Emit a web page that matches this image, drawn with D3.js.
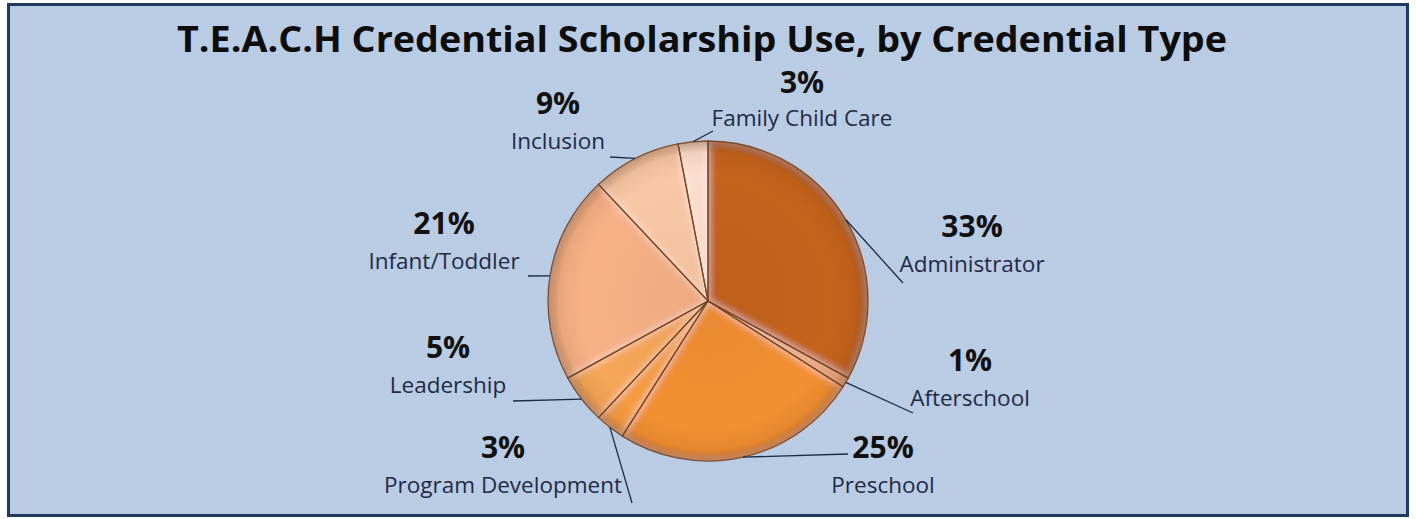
<!DOCTYPE html>
<html>
<head>
<meta charset="utf-8">
<script src="https://cdn.jsdelivr.net/npm/d3@7"></script>
<style>
  body { margin: 0; background: #ffffff; }
  svg { display: block; }
</style>
</head>
<body>
<svg></svg>
<script>
// chart data
let categories = ["Administrator", "Afterschool", "Preschool", "Program Development",
                  "Leadership", "Infant/Toddler", "Inclusion", "Family Child Care"];
let shares = [33, 1, 25, 3, 5, 21, 9, 3];
let sliceColors = ["#c4631d", "#e3832e", "#f28f31", "#f49b40", "#f6a658", "#f6b187", "#f9c8a7", "#fcdecd"];

// where Excel put the labels (center x / pct baseline), relative to pie center
let labelSpots = [[264, -64], [262, 70], [175, 157], [-205, 157], [-260, 57], [-264, -67], [-150, -187], [94, -208]];
// end of each leader line, relative to pie center
let leaderEnds = [[195, -18], [205, 112], [140, 153], [-76, 202], [-195, 100], [-180, -25], [-98, -144], [5, -170]];

let width = 1416;
let height = 519;
let cx = 708;
let cy = 301;
let radius = 160;

let svg = d3.select("svg")
  .attr("width", width)
  .attr("height", height);

let defs = svg.append("defs");

// soft light band along the slice edges
let bevel = defs.append("filter").attr("id", "bevel")
  .attr("x", "-10%").attr("y", "-10%").attr("width", "120%").attr("height", "120%");
bevel.append("feGaussianBlur").attr("in", "SourceAlpha").attr("stdDeviation", 4).attr("result", "blur");
bevel.append("feComposite").attr("in", "SourceAlpha").attr("in2", "blur")
  .attr("operator", "arithmetic").attr("k1", 0).attr("k2", 1).attr("k3", -1).attr("k4", 0).attr("result", "edge");
bevel.append("feFlood").attr("flood-color", "#ffffff").attr("flood-opacity", 0.6).attr("result", "white");
bevel.append("feComposite").attr("in", "white").attr("in2", "edge").attr("operator", "in").attr("result", "glow");
let merge = bevel.append("feMerge");
merge.append("feMergeNode").attr("in", "SourceGraphic");
merge.append("feMergeNode").attr("in", "glow");

// darker rim (gradient lives in the pie group's coordinates)
let rim = defs.append("radialGradient").attr("id", "rim")
  .attr("cx", 0).attr("cy", 0).attr("r", radius).attr("gradientUnits", "userSpaceOnUse");
rim.append("stop").attr("offset", "0%").attr("stop-color", "#5a2a00").attr("stop-opacity", 0.06);
rim.append("stop").attr("offset", "80%").attr("stop-color", "#5a2a00").attr("stop-opacity", 0);
rim.append("stop").attr("offset", "93%").attr("stop-color", "#5a2a00").attr("stop-opacity", 0.08);
rim.append("stop").attr("offset", "100%").attr("stop-color", "#5a2a00").attr("stop-opacity", 0.38);

// background + frame
svg.append("rect")
  .attr("x", 8.5).attr("y", 4.5)
  .attr("width", 1399).attr("height", 511)
  .attr("fill", "#b9cce4")
  .attr("stroke", "#1f3a60")
  .attr("stroke-width", 3);

// title
svg.append("text")
  .attr("x", 702)
  .attr("y", 52)
  .attr("text-anchor", "middle")
  .attr("textLength", 1050)
  .attr("lengthAdjust", "spacingAndGlyphs")
  .style("font-family", "'Open Sans', sans-serif")
  .style("font-weight", 700)
  .style("font-size", "35px")
  .style("fill", "#0d0d0d")
  .text("T.E.A.C.H  Credential Scholarship Use, by Credential Type");

let slices = categories.map((c, i) => ({ name: c, value: shares[i], color: sliceColors[i] }));

let pie = d3.pie().sort(null).value(d => d.value);
let arcs = pie(slices);

let arc = d3.arc().innerRadius(0).outerRadius(radius);

let g = svg.append("g").attr("transform", "translate(" + cx + "," + cy + ")");

g.selectAll("path.slice")
  .data(arcs)
  .enter()
  .append("path")
  .attr("class", "slice")
  .attr("d", arc)
  .attr("fill", d => d.data.color)
  .attr("filter", "url(#bevel)");

// rim shading + slice borders
g.selectAll("path.shade")
  .data(arcs)
  .enter()
  .append("path")
  .attr("class", "shade")
  .attr("d", arc)
  .attr("fill", "url(#rim)")
  .attr("stroke", "#7a4420")
  .attr("stroke-opacity", 0.9)
  .attr("stroke-width", 1.3);

// leader lines: from slice edge at its mid angle to the label
let edgePoint = (d) => {
  let a = (d.startAngle + d.endAngle) / 2;
  return [radius * Math.sin(a), -radius * Math.cos(a)];
};

g.selectAll("line.leader")
  .data(arcs)
  .enter()
  .append("line")
  .attr("class", "leader")
  .attr("x1", d => edgePoint(d)[0])
  .attr("y1", d => edgePoint(d)[1])
  .attr("x2", (d, i) => leaderEnds[i][0])
  .attr("y2", (d, i) => leaderEnds[i][1])
  .attr("stroke", "#1f2a44")
  .attr("stroke-width", 1.3);

// labels
let labels = g.selectAll("g.label")
  .data(arcs)
  .enter()
  .append("g")
  .attr("class", "label")
  .attr("transform", (d, i) => "translate(" + labelSpots[i][0] + "," + labelSpots[i][1] + ")");

labels.append("text")
  .attr("text-anchor", "middle")
  .style("font-family", "'Open Sans', sans-serif")
  .style("font-weight", 700)
  .style("font-size", "30px")
  .style("fill", "#111111")
  .text(d => d.data.value + "%");

labels.append("text")
  .attr("y", (d, i) => i === 7 ? 33 : 35)
  .attr("text-anchor", "middle")
  .style("font-family", "'Open Sans', sans-serif")
  .style("font-size", "22.5px")
  .style("fill", "#1f2a44")
  .text(d => d.data.name);
</script>
</body>
</html>
